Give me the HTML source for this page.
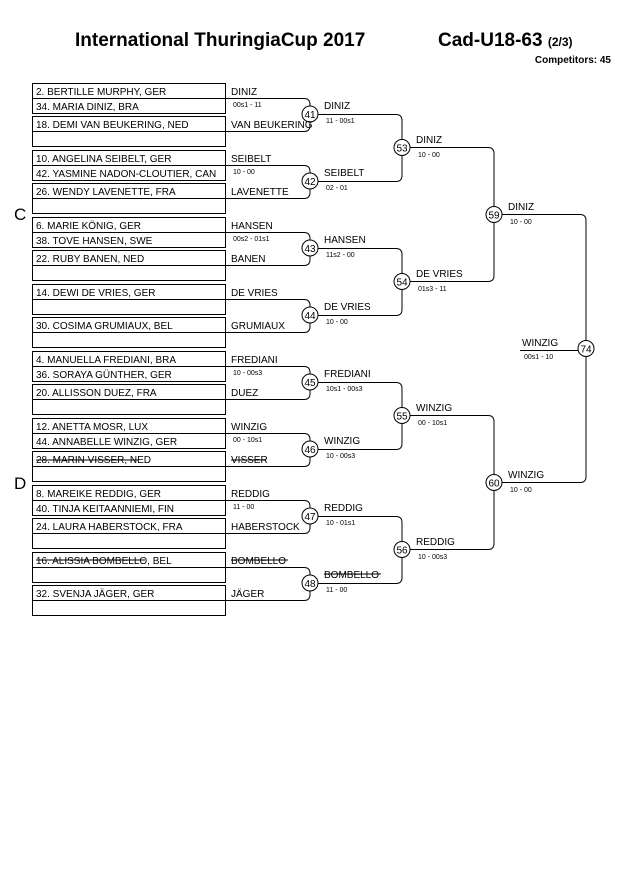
<!DOCTYPE html>
<html><head><meta charset="utf-8"><style>
html,body{margin:0;padding:0;background:#fff;}
svg{display:block;}
text{font-family:"Liberation Sans",Arial,sans-serif;fill:#000;}
.n{font-size:10px;}
.s{font-size:7px;}
.c{font-size:10px;text-anchor:middle;}
</style></head><body>
<svg width="630" height="891" viewBox="0 0 630 891" xmlns="http://www.w3.org/2000/svg">
<text x="75" y="46" style="font-size:19px;font-weight:bold">International ThuringiaCup 2017</text>
<text x="438" y="46" style="font-size:19px;font-weight:bold">Cad-U18-63 <tspan style="font-size:12px">(2/3)</tspan></text>
<text x="611" y="63" style="font-size:10px;font-weight:bold;text-anchor:end">Competitors: 45</text>
<text x="14" y="220" style="font-size:17px">C</text>
<text x="14" y="489" style="font-size:17px">D</text>

<defs>
<g id="g1" fill="none" stroke="#000" stroke-width="1">
<rect x="32.5" y="0.5" width="193" height="30"/><line x1="32" y1="15.5" x2="225" y2="15.5"/>
<rect x="32.5" y="33.5" width="193" height="30"/><line x1="32" y1="48.5" x2="225" y2="48.5"/>
<path d="M225,15.5 H304 Q310,15.5 310,21.5 V23"/><path d="M310,39 V42.5 Q310,48.5 304,48.5 H225"/>
<circle cx="310" cy="31" r="8"/>
</g>
<g id="g2" fill="none" stroke="#000" stroke-width="1">
<path d="M318,31.5 H396 Q402,31.5 402,37.5 V56.5"/><path d="M402,72.5 V92.5 Q402,98.5 396,98.5 H318"/>
<circle cx="402" cy="64.5" r="8"/>
</g>
<g id="g3" fill="none" stroke="#000" stroke-width="1">
<path d="M410,64.5 H488 Q494,64.5 494,70.5 V123.5"/><path d="M494,139.5 V192.5 Q494,198.5 488,198.5 H410"/>
<circle cx="494" cy="131.5" r="8"/>
</g>
</defs>

<use href="#g1" y="83"/><use href="#g1" y="150"/><use href="#g1" y="217"/><use href="#g1" y="284"/>
<use href="#g1" y="351"/><use href="#g1" y="418"/><use href="#g1" y="485"/><use href="#g1" y="552"/>
<use href="#g2" y="83"/><use href="#g2" y="217"/><use href="#g2" y="351"/><use href="#g2" y="485"/>
<use href="#g3" y="83"/><use href="#g3" y="351"/>
<g fill="none" stroke="#000">
<path d="M502,214.5 H580 Q586,214.5 586,220.5 V340.5"/><path d="M586,356.5 V476.5 Q586,482.5 580,482.5 H502"/>
<circle cx="586" cy="348.5" r="8"/>
<line x1="520" y1="350.5" x2="578" y2="350.5"/>
<line x1="36" y1="460" x2="138" y2="460"/>
<line x1="231" y1="460" x2="266" y2="460"/>
<line x1="36" y1="560" x2="145" y2="560"/>
<line x1="231" y1="560" x2="288" y2="560"/>
<line x1="324" y1="574" x2="381" y2="574"/>
</g>

<text class="c" x="310" y="118">41</text><text class="c" x="310" y="185">42</text>
<text class="c" x="310" y="252">43</text><text class="c" x="310" y="319">44</text>
<text class="c" x="310" y="386">45</text><text class="c" x="310" y="453">46</text>
<text class="c" x="310" y="520">47</text><text class="c" x="310" y="587">48</text>
<text class="c" x="402" y="151.5">53</text><text class="c" x="402" y="285.5">54</text>
<text class="c" x="402" y="419.5">55</text><text class="c" x="402" y="553.5">56</text>
<text class="c" x="494" y="218.5">59</text><text class="c" x="494" y="486.5">60</text>
<text class="c" x="586" y="352.5">74</text>

<text class="n" x="36" y="95">2. BERTILLE MURPHY, GER</text>
<text class="n" x="36" y="110">34. MARIA  DINIZ, BRA</text>
<text class="n" x="36" y="128">18. DEMI VAN BEUKERING, NED</text>
<text class="n" x="231" y="95">DINIZ</text><text class="s" x="233" y="107">00s1 - 11</text>
<text class="n" x="231" y="128">VAN BEUKERING</text>
<text class="n" x="36" y="162">10. ANGELINA SEIBELT, GER</text>
<text class="n" x="36" y="177">42. YASMINE NADON-CLOUTIER, CAN</text>
<text class="n" x="36" y="195">26. WENDY LAVENETTE, FRA</text>
<text class="n" x="231" y="162">SEIBELT</text><text class="s" x="233" y="174">10 - 00</text>
<text class="n" x="231" y="195">LAVENETTE</text>
<text class="n" x="36" y="229">6. MARIE KÖNIG, GER</text>
<text class="n" x="36" y="244">38. TOVE HANSEN, SWE</text>
<text class="n" x="36" y="262">22. RUBY BANEN, NED</text>
<text class="n" x="231" y="229">HANSEN</text><text class="s" x="233" y="241">00s2 - 01s1</text>
<text class="n" x="231" y="262">BANEN</text>
<text class="n" x="36" y="296">14. DEWI DE VRIES, GER</text>
<text class="n" x="36" y="329">30. COSIMA GRUMIAUX, BEL</text>
<text class="n" x="231" y="296">DE VRIES</text>
<text class="n" x="231" y="329">GRUMIAUX</text>
<text class="n" x="36" y="363">4. MANUELLA FREDIANI, BRA</text>
<text class="n" x="36" y="378">36. SORAYA GÜNTHER, GER</text>
<text class="n" x="36" y="396">20. ALLISSON DUEZ, FRA</text>
<text class="n" x="231" y="363">FREDIANI</text><text class="s" x="233" y="375">10 - 00s3</text>
<text class="n" x="231" y="396">DUEZ</text>
<text class="n" x="36" y="430">12. ANETTA MOSR, LUX</text>
<text class="n" x="36" y="445">44. ANNABELLE WINZIG, GER</text>
<text class="n" x="36" y="463">28. MARIN VISSER, NED</text>
<text class="n" x="231" y="430">WINZIG</text><text class="s" x="233" y="442">00 - 10s1</text>
<text class="n" x="231" y="463">VISSER</text>
<text class="n" x="36" y="497">8. MAREIKE REDDIG, GER</text>
<text class="n" x="36" y="512">40. TINJA KEITAANNIEMI, FIN</text>
<text class="n" x="36" y="530">24. LAURA HABERSTOCK, FRA</text>
<text class="n" x="231" y="497">REDDIG</text><text class="s" x="233" y="509">11 - 00</text>
<text class="n" x="231" y="530">HABERSTOCK</text>
<text class="n" x="36" y="564">16. ALISSIA BOMBELLO, BEL</text>
<text class="n" x="36" y="597">32. SVENJA JÄGER, GER</text>
<text class="n" x="231" y="564">BOMBELLO</text>
<text class="n" x="231" y="597">JÄGER</text>

<text class="n" x="324" y="109">DINIZ</text><text class="s" x="326" y="123">11 - 00s1</text>
<text class="n" x="324" y="176">SEIBELT</text><text class="s" x="326" y="190">02 - 01</text>
<text class="n" x="324" y="243">HANSEN</text><text class="s" x="326" y="257">11s2 - 00</text>
<text class="n" x="324" y="310">DE VRIES</text><text class="s" x="326" y="324">10 - 00</text>
<text class="n" x="324" y="377">FREDIANI</text><text class="s" x="326" y="391">10s1 - 00s3</text>
<text class="n" x="324" y="444">WINZIG</text><text class="s" x="326" y="458">10 - 00s3</text>
<text class="n" x="324" y="511">REDDIG</text><text class="s" x="326" y="525">10 - 01s1</text>
<text class="n" x="324" y="578">BOMBELLO</text><text class="s" x="326" y="592">11 - 00</text>
<text class="n" x="416" y="143">DINIZ</text><text class="s" x="418" y="157">10 - 00</text>
<text class="n" x="416" y="277">DE VRIES</text><text class="s" x="418" y="291">01s3 - 11</text>
<text class="n" x="416" y="411">WINZIG</text><text class="s" x="418" y="425">00 - 10s1</text>
<text class="n" x="416" y="545">REDDIG</text><text class="s" x="418" y="559">10 - 00s3</text>
<text class="n" x="508" y="210">DINIZ</text><text class="s" x="510" y="224">10 - 00</text>
<text class="n" x="508" y="478">WINZIG</text><text class="s" x="510" y="492">10 - 00</text>
<text class="n" x="522" y="346">WINZIG</text><text class="s" x="524" y="359">00s1 - 10</text>
</svg>
</body></html>
